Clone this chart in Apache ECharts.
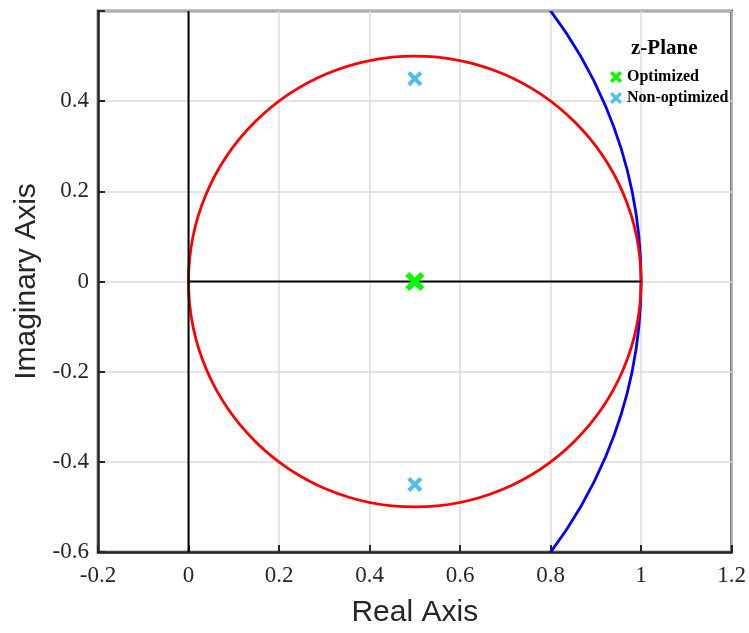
<!DOCTYPE html>
<html>
<head>
<meta charset="utf-8">
<script src="https://cdn.jsdelivr.net/npm/echarts@6/dist/echarts.min.js"></script>
<style>
  html, body { margin: 0; padding: 0; background: #fff; }
  #myChart { width: 749px; height: 633px; }
</style>
</head>
<body>
<div id="myChart"></div>
<script>
  // circles: [center x, center y, radius]
  const redCircle = [[0.5, 0, 0.5]]
  const blueCircle = [[0, 0, 1]]
  // poles
  const optimized = [[0.5, 0]]
  const nonOptimized = [[0.5, 0.45], [0.5, -0.45]]
  // black axis segments
  const realSeg = [[0, 0], [1, 0]]
  const imagSeg = [[0, -0.6], [0, 0.6]]

  const xIcon = 'path://M0,1.9 L1.9,0 L5,3.1 L8.1,0 L10,1.9 L6.9,5 L10,8.1 L8.1,10 L5,6.9 L1.9,10 L0,8.1 L3.1,5 Z'
  const xIconBold = 'path://M0,2.1 L2.1,0 L5,2.9 L7.9,0 L10,2.1 L7.1,5 L10,7.9 L7.9,10 L5,7.1 L2.1,10 L0,7.9 L2.9,5 Z'

  const myChart = echarts.init(document.getElementById('myChart'))

  function circleItem(params, api) {
    const c = api.coord([api.value(0), api.value(1)])
    const s = api.size([api.value(2), api.value(2)])
    const cs = params.coordSys
    return {
      type: 'ellipse',
      shape: { cx: c[0], cy: c[1], rx: s[0], ry: s[1] },
      style: { fill: 'none', stroke: api.visual('color'), lineWidth: 2.8 },
      clipPath: { type: 'rect', shape: { x: cs.x, y: cs.y, width: cs.width, height: cs.height } }
    }
  }

  const serif = 'Liberation Serif'
  const dark = '#262626'
  myChart.setOption({
    animation: false,
    title: {
      text: 'z-Plane',
      left: 626,
      top: 33,
      textStyle: { fontFamily: serif, fontWeight: 'bold', fontSize: 21, color: '#000' }
    },
    legend: {
      data: [
        { name: 'Optimized', icon: xIconBold },
        { name: 'Non-optimized', icon: xIcon }
      ],
      orient: 'vertical',
      left: 605,
      top: 64,
      itemWidth: 12,
      itemHeight: 12,
      itemGap: 5,
      textStyle: { fontFamily: serif, fontWeight: 'bold', fontSize: 16, color: '#000' }
    },
    grid: {
      left: 98,
      right: 13,
      top: 11,
      bottom: 80,
      show: true,
      borderColor: dark,
      borderWidth: 2.5
    },
    xAxis: {
      type: 'value',
      min: -0.2,
      max: 1.2,
      interval: 0.2,
      name: 'Real Axis',
      nameLocation: 'middle',
      nameGap: 46,
      nameTextStyle: { fontFamily: 'Liberation Sans', fontSize: 30, color: dark },
      axisLine: { show: true, onZero: false, lineStyle: { color: dark, width: 2.5 } },
      axisTick: { show: true, inside: true, length: 7, lineStyle: { color: dark, width: 2 } },
      axisLabel: { fontFamily: serif, fontSize: 23, color: dark, margin: 12 },
      splitLine: { show: true, lineStyle: { color: '#dcdcdc', width: 1.5 } }
    },
    yAxis: {
      type: 'value',
      min: -0.6,
      max: 0.6,
      interval: 0.2,
      name: 'Imaginary Axis',
      nameLocation: 'middle',
      nameGap: 52,
      nameTextStyle: { fontFamily: 'Liberation Sans', fontSize: 30, color: dark },
      axisLine: { show: true, onZero: false, lineStyle: { color: dark, width: 2.5 } },
      axisTick: { show: true, inside: true, length: 7, lineStyle: { color: dark, width: 2 } },
      axisLabel: {
        fontFamily: serif, fontSize: 23, color: dark, margin: 9,
        formatter: function (v) { return Math.abs(v - 0.6) < 1e-9 ? '' : String(Math.round(v * 10) / 10) }
      },
      splitLine: { show: true, lineStyle: { color: '#dcdcdc', width: 1.5 } }
    },
    series: [
      {
        name: 'unit',
        type: 'custom',
        renderItem: circleItem,
        itemStyle: { color: '#0000ff' },
        data: blueCircle,
        silent: true,
        z: 2
      },
      {
        name: 'stable',
        type: 'custom',
        renderItem: circleItem,
        itemStyle: { color: '#ff0000' },
        data: redCircle,
        silent: true,
        z: 3
      },
      {
        name: 'real',
        type: 'line',
        data: realSeg,
        symbol: 'none',
        lineStyle: { color: '#000', width: 2 },
        z: 4
      },
      {
        name: 'imag',
        type: 'line',
        data: imagSeg,
        symbol: 'none',
        lineStyle: { color: '#000', width: 2 },
        z: 4
      },
      {
        name: 'Optimized',
        type: 'scatter',
        data: optimized,
        symbol: xIconBold,
        symbolSize: 19,
        itemStyle: { color: '#00ff00', opacity: 1 },
        z: 6
      },
      {
        name: 'Non-optimized',
        type: 'scatter',
        data: nonOptimized,
        symbol: xIcon,
        symbolSize: 15,
        itemStyle: { color: '#4dbeee', opacity: 1 },
        z: 6
      }
    ]
  })
</script>
</body>
</html>
